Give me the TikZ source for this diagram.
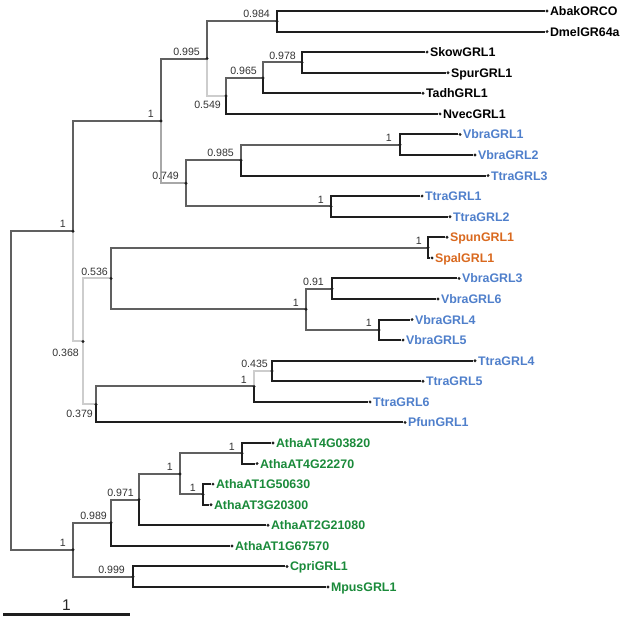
\documentclass[tikz,border=0pt]{standalone}
\usepackage{fontspec}
\setmainfont{Liberation Sans}
\usetikzlibrary{positioning}

\definecolor{strongc}{HTML}{606060}
\definecolor{midc}{HTML}{A8A8A8}
\definecolor{weakc}{HTML}{CDCDCD}
\definecolor{leafc}{HTML}{1E1E1E}
\definecolor{vblue}{HTML}{4F7FCB}
\definecolor{sorange}{HTML}{D9691F}
\definecolor{agreen}{HTML}{1A8A3A}

\tikzset{
  leafdot/.style={circle, fill=leafc, inner sep=0pt, minimum size=3.2pt},
  taxon/.style={font=\bfseries\fontsize{12.4}{14}\selectfont, text=#1, inner sep=1pt, text height=8.9pt, text depth=0pt},
  bs/.style={font=\fontsize{10.6}{12}\selectfont, text=black!80, inner sep=0pt},
  edge/.style={draw=#1, line width=2.1pt},
}

\begin{document}
\begin{tikzpicture}[x=1pt, y=-1pt]
  \useasboundingbox (0,0) rectangle (623,620);

  % leaves
  \node[leafdot, label={[taxon=black]right:AbakORCO}] (abak) at (547,11) {};
  \node[leafdot, label={[taxon=black]right:DmelGR64a}] (dmel) at (547,31.6) {};
  \node[leafdot, label={[taxon=black]right:SkowGRL1}] (skow) at (427,52.1) {};
  \node[leafdot, label={[taxon=black]right:SpurGRL1}] (spur) at (448,72.7) {};
  \node[leafdot, label={[taxon=black]right:TadhGRL1}] (tadh) at (423,93.3) {};
  \node[leafdot, label={[taxon=black]right:NvecGRL1}] (nvec) at (440,113.9) {};
  \node[leafdot, label={[taxon=vblue]right:VbraGRL1}] (vbra1) at (460,134.4) {};
  \node[leafdot, label={[taxon=vblue]right:VbraGRL2}] (vbra2) at (475,155) {};
  \node[leafdot, label={[taxon=vblue]right:TtraGRL3}] (ttra3) at (488,175.6) {};
  \node[leafdot, label={[taxon=vblue]right:TtraGRL1}] (ttra1) at (422,196.1) {};
  \node[leafdot, label={[taxon=vblue]right:TtraGRL2}] (ttra2) at (450,216.7) {};
  \node[leafdot, label={[taxon=sorange]right:SpunGRL1}] (spun) at (447,237.3) {};
  \node[leafdot, label={[taxon=sorange]right:SpalGRL1}] (spal) at (432,257.9) {};
  \node[leafdot, label={[taxon=vblue]right:VbraGRL3}] (vbra3) at (459,278.4) {};
  \node[leafdot, label={[taxon=vblue]right:VbraGRL6}] (vbra6) at (438,299) {};
  \node[leafdot, label={[taxon=vblue]right:VbraGRL4}] (vbra4) at (412,319.6) {};
  \node[leafdot, label={[taxon=vblue]right:VbraGRL5}] (vbra5) at (403,340.1) {};
  \node[leafdot, label={[taxon=vblue]right:TtraGRL4}] (ttra4) at (475,360.7) {};
  \node[leafdot, label={[taxon=vblue]right:TtraGRL5}] (ttra5) at (423,381.3) {};
  \node[leafdot, label={[taxon=vblue]right:TtraGRL6}] (ttra6) at (370,401.9) {};
  \node[leafdot, label={[taxon=vblue]right:PfunGRL1}] (pfun) at (405,422.4) {};
  \node[leafdot, label={[taxon=agreen]right:AthaAT4G03820}] (at4g03820) at (273,443) {};
  \node[leafdot, label={[taxon=agreen]right:AthaAT4G22270}] (at4g22270) at (257,463.6) {};
  \node[leafdot, label={[taxon=agreen]right:AthaAT1G50630}] (at1g50630) at (213,484.1) {};
  \node[leafdot, label={[taxon=agreen]right:AthaAT3G20300}] (at3g20300) at (211,504.7) {};
  \node[leafdot, label={[taxon=agreen]right:AthaAT2G21080}] (at2g21080) at (268,525.3) {};
  \node[leafdot, label={[taxon=agreen]right:AthaAT1G67570}] (at1g67570) at (232,545.9) {};
  \node[leafdot, label={[taxon=agreen]right:CpriGRL1}] (cpri) at (287,566.4) {};
  \node[leafdot, label={[taxon=agreen]right:MpusGRL1}] (mpus) at (328,587) {};

  % internal nodes
  \coordinate (root) at (11,390.5);
  \coordinate (n1) at (73,231.2);
  \coordinate (n2) at (161,121);
  \coordinate (n3) at (83,341.4);
  \coordinate (n4) at (207,58.6);
  \coordinate (n5) at (186,183.3);
  \coordinate (n6) at (277,21.3);
  \coordinate (n7) at (226,95.9);
  \coordinate (n8) at (263,77.9);
  \coordinate (n9) at (302,62.4);
  \coordinate (n10) at (241,160.2);
  \coordinate (n11) at (331,206.4);
  \coordinate (n12) at (400,144.7);
  \coordinate (n13) at (111,278.4);
  \coordinate (n14) at (96,404.4);
  \coordinate (n15) at (428,247.6);
  \coordinate (n16) at (306,309.3);
  \coordinate (n17) at (332,288.7);
  \coordinate (n18) at (379,329.9);
  \coordinate (n19) at (254,386.4);
  \coordinate (n20) at (272,371);
  \coordinate (n21) at (73,549.7);
  \coordinate (n22) at (111,522.7);
  \coordinate (n23) at (133,576.7);
  \coordinate (n24) at (139,499.6);
  \coordinate (n25) at (180,473.9);
  \coordinate (n26) at (242,453.3);
  \coordinate (n27) at (203,494.4);

  % branches
  \draw[edge=strongc] (root) |- (n1);
  \draw[edge=strongc] (root) |- (n21);
  \draw[edge=strongc] (n1) |- (n2);
  \draw[edge=weakc] (n1) |- (n3);
  \draw[edge=strongc] (n2) |- (n4);
  \draw[edge=midc] (n2) |- (n5);
  \draw[edge=strongc] (n4) |- (n6);
  \draw[edge=weakc] (n4) |- (n7);
  \draw[edge=leafc] (n6) |- (abak.west);
  \draw[edge=leafc] (n6) |- (dmel.west);
  \draw[edge=strongc] (n7) |- (n8);
  \draw[edge=leafc] (n7) |- (nvec.west);
  \draw[edge=strongc] (n8) |- (n9);
  \draw[edge=leafc] (n8) |- (tadh.west);
  \draw[edge=leafc] (n9) |- (skow.west);
  \draw[edge=leafc] (n9) |- (spur.west);
  \draw[edge=strongc] (n5) |- (n10);
  \draw[edge=strongc] (n5) |- (n11);
  \draw[edge=strongc] (n10) |- (n12);
  \draw[edge=leafc] (n10) |- (ttra3.west);
  \draw[edge=leafc] (n12) |- (vbra1.west);
  \draw[edge=leafc] (n12) |- (vbra2.west);
  \draw[edge=leafc] (n11) |- (ttra1.west);
  \draw[edge=leafc] (n11) |- (ttra2.west);
  \draw[edge=weakc] (n3) |- (n13);
  \draw[edge=weakc] (n3) |- (n14);
  \draw[edge=strongc] (n13) |- (n15);
  \draw[edge=strongc] (n13) |- (n16);
  \draw[edge=leafc] (n15) |- (spun.west);
  \draw[edge=leafc] (n15) |- (spal.west);
  \draw[edge=strongc] (n16) |- (n17);
  \draw[edge=strongc] (n16) |- (n18);
  \draw[edge=leafc] (n17) |- (vbra3.west);
  \draw[edge=leafc] (n17) |- (vbra6.west);
  \draw[edge=leafc] (n18) |- (vbra4.west);
  \draw[edge=leafc] (n18) |- (vbra5.west);
  \draw[edge=strongc] (n14) |- (n19);
  \draw[edge=leafc] (n14) |- (pfun.west);
  \draw[edge=weakc] (n19) |- (n20);
  \draw[edge=leafc] (n19) |- (ttra6.west);
  \draw[edge=leafc] (n20) |- (ttra4.west);
  \draw[edge=leafc] (n20) |- (ttra5.west);
  \draw[edge=strongc] (n21) |- (n22);
  \draw[edge=strongc] (n21) |- (n23);
  \draw[edge=strongc] (n22) |- (n24);
  \draw[edge=leafc] (n22) |- (at1g67570.west);
  \draw[edge=strongc] (n24) |- (n25);
  \draw[edge=leafc] (n24) |- (at2g21080.west);
  \draw[edge=strongc] (n25) |- (n26);
  \draw[edge=strongc] (n25) |- (n27);
  \draw[edge=leafc] (n26) |- (at4g03820.west);
  \draw[edge=leafc] (n26) |- (at4g22270.west);
  \draw[edge=leafc] (n27) |- (at1g50630.west);
  \draw[edge=leafc] (n27) |- (at3g20300.west);
  \draw[edge=leafc] (n23) |- (cpri.west);
  \draw[edge=leafc] (n23) |- (mpus.west);

  \foreach \i in {1,...,27}
    \fill[leafc] (n\i) circle (1.6pt);

  % support values
  \node[bs, above left=3pt and 7pt of n1] (s1) {1};
  \node[bs, above left=3pt and 7pt of n2] (s2) {1};
  \node[bs, below left=7pt and 4pt of n3] (s3) {0.368};
  \node[bs, above left=3pt and 7pt of n4] (s4) {0.995};
  \node[bs, above left=3pt and 7pt of n5] (s5) {0.749};
  \node[bs, above left=3pt and 7pt of n6] (s6) {0.984};
  \node[bs, below left=5pt and 5pt of n7] (s7) {0.549};
  \node[bs, above left=3pt and 6pt of n8] (s8) {0.965};
  \node[bs, above left=3pt and 6pt of n9] (s9) {0.978};
  \node[bs, above left=3pt and 7pt of n10] (s10) {0.985};
  \node[bs, above left=3pt and 7pt of n11] (s11) {1};
  \node[bs, above left=3pt and 8pt of n12] (s12) {1};
  \node[bs, above left=3pt and 3pt of n13] (s13) {0.536};
  \node[bs, below left=5pt and 3pt of n14] (s14) {0.379};
  \node[bs, above left=3pt and 6pt of n15] (s15) {1};
  \node[bs, above left=3pt and 7pt of n16] (s16) {1};
  \node[bs, above left=3pt and 8pt of n17] (s17) {0.91};
  \node[bs, above left=3pt and 7pt of n18] (s18) {1};
  \node[bs, above left=3pt and 7pt of n19] (s19) {1};
  \node[bs, above left=3pt and 4pt of n20] (s20) {0.435};
  \node[bs, above left=3pt and 7pt of n21] (s21) {1};
  \node[bs, above left=3pt and 4pt of n22] (s22) {0.989};
  \node[bs, above left=3pt and 8pt of n23] (s23) {0.999};
  \node[bs, above left=3pt and 5pt of n24] (s24) {0.971};
  \node[bs, above left=3pt and 7pt of n25] (s25) {1};
  \node[bs, above left=3pt and 7pt of n26] (s26) {1};
  \node[bs, above left=3pt and 7pt of n27] (s27) {1};

  % scale bar
  \coordinate (sb0) at (3,614.7);
  \coordinate (sb1) at (130,614.7);
  \draw[line width=2.7pt, leafc] (sb0) -- (sb1)
    node[midway, above=2.5pt, inner sep=0pt, text=black!85, font=\fontsize{15.5}{16}\selectfont] (sbl) {1};
\end{tikzpicture}
\end{document}
